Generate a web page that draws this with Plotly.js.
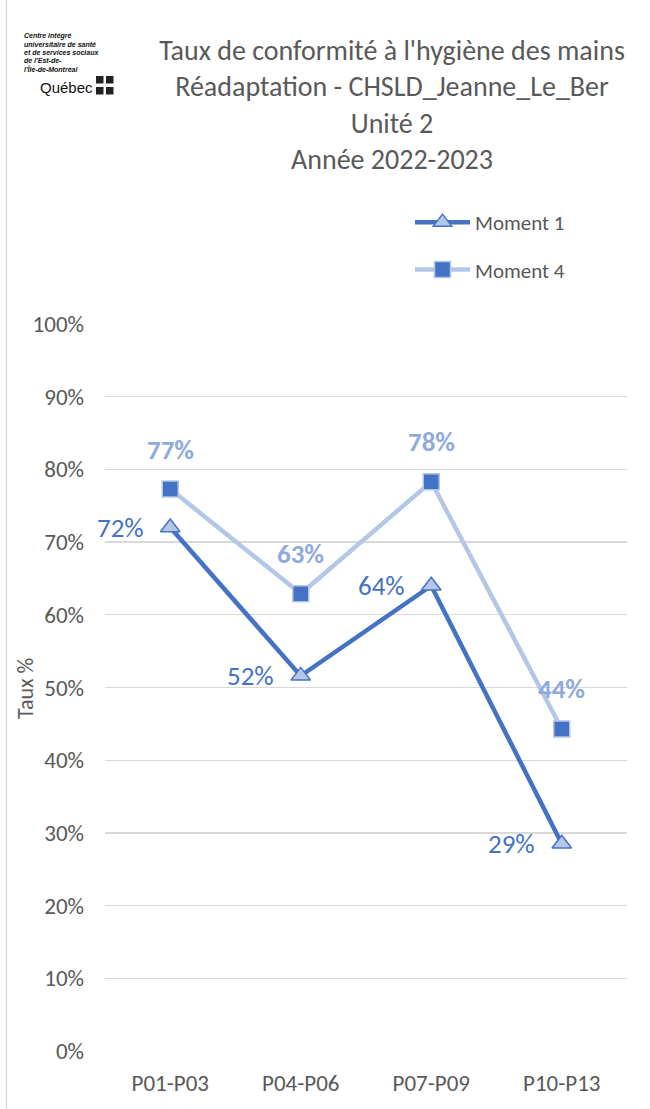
<!DOCTYPE html>
<html>
<head>
<meta charset="utf-8">
<script src="https://cdn.plot.ly/plotly-3.0.1.min.js"></script>
<style>html,body{margin:0;padding:0;background:#fff;}#chart{width:650px;height:1109px;}</style>
</head>
<body>
<div id="chart"></div>
<script>
const categories = ["P01-P03", "P04-P06", "P07-P09", "P10-P13"];
const moment1 = [0.72, 0.516, 0.64, 0.285];
const moment4 = [0.773, 0.629, 0.783, 0.443];
const moment1Labels = ["72%", "52%", "64%", "29%"];
const moment4Labels = ["77%", "63%", "78%", "44%"];
const yTickVals = [0, 0.1, 0.2, 0.3, 0.4, 0.5, 0.6, 0.7, 0.8, 0.9, 1.0];
const yTickText = ["0%", "10%", "20%", "30%", "40%", "50%", "60%", "70%", "80%", "90%", "100%"];

const FONT = "Carlito, Lato, 'Open Sans', sans-serif";
const DARK = "#4472C4";
const LIGHT = "#B4C7E7";
const LABEL4 = "#8FAADC";
const GREY = "#595959";

// plot-area geometry in pixels (for paper coordinates of decorations)
const L = 105, R = 627, T = 324, B = 1051;
const px = x => (x - L) / (R - L);
const py = y => (B - y) / (B - T);

const traces = [
  {
    x: categories, y: moment1, name: "Moment 1", type: "scatter", mode: "lines+markers",
    legendgroup: "g1",
    line: {color: DARK, width: 4.5},
    marker: {symbol: "triangle-up", size: 17, color: LIGHT, line: {color: DARK, width: 1.5}}
  },
  {
    x: categories, y: moment4, name: "Moment 4", type: "scatter", mode: "lines+markers",
    legendgroup: "g2",
    line: {color: LIGHT, width: 4.5},
    marker: {symbol: "square", size: 16, color: DARK, line: {color: LIGHT, width: 1.5}}
  }
];

const annotations = [];
categories.forEach((c, i) => {
  annotations.push({x: c, y: moment1[i], xref: "x", yref: "y", text: moment1Labels[i], showarrow: false,
    xshift: -50, yshift: 0, font: {family: FONT, size: 27, color: DARK}});
  annotations.push({x: c, y: moment4[i], xref: "x", yref: "y", text: "<b>" + moment4Labels[i] + "</b>", showarrow: false,
    xshift: 0, yshift: 40, font: {family: FONT, size: 27, color: LABEL4}});
});

// y-axis title
annotations.push({xref: "paper", yref: "paper", x: px(25), y: py(688), text: "Taux %", textangle: -90,
  showarrow: false, xanchor: "center", yanchor: "middle", font: {family: FONT, size: 22, color: GREY}});

// logo text
const logoLines = ["Centre intégré", "universitaire de santé", "et de services sociaux", "de l'Est-de-", "l'Île-de-Montréal"];
logoLines.forEach((t, i) => {
  annotations.push({xref: "paper", yref: "paper", x: px(22), y: py(36 + i * 8.2),
    text: "<b><i>" + t + "</i></b>", showarrow: false, xanchor: "left", yanchor: "middle",
    font: {family: "'Liberation Sans', Arial, sans-serif", size: 7, color: "#111"}});
});
annotations.push({xref: "paper", yref: "paper", x: px(38), y: py(88), text: "Québec",
  showarrow: false, xanchor: "left", yanchor: "middle",
  font: {family: "'Liberation Sans', Arial, sans-serif", size: 15, color: "#111"}});

const shapes = [
  {type: "line", xref: "paper", yref: "paper", x0: px(6.5), x1: px(6.5), y0: py(0), y1: py(1109),
   line: {color: "#D9D9D9", width: 1.5}}
];
[[96, 76], [106, 76], [96, 87], [106, 87]].forEach(p => {
  shapes.push({type: "rect", xref: "paper", yref: "paper",
    x0: px(p[0]), x1: px(p[0] + 7.5), y0: py(p[1]), y1: py(p[1] + 7.5),
    fillcolor: "#222", line: {width: 0}});
});

const layout = {
  width: 650, height: 1109,
  paper_bgcolor: "#fff", plot_bgcolor: "#fff",
  margin: {l: L, r: 650 - R, t: T, b: 1109 - B},
  font: {family: FONT, color: GREY},
  title: {
    text: "Taux de conformité à l'hygiène des mains<br>Réadaptation - CHSLD_Jeanne_Le_Ber<br>Unité 2<br>Année 2022-2023",
    font: {family: FONT, size: 28, color: GREY},
    xref: "container", yref: "container", x: 392 / 650, xanchor: "center", y: 1 - 60 / 1109, yanchor: "top"
  },
  showlegend: true,
  legend: {
    x: px(410), y: py(202), xanchor: "left", yanchor: "top",
    font: {family: FONT, size: 21, color: GREY},
    tracegroupgap: 17, itemwidth: 55, bgcolor: "rgba(0,0,0,0)"
  },
  xaxis: {
    type: "category", range: [-0.5, 3.5], showgrid: false, zeroline: false, showline: false,
    ticks: "", tickfont: {family: FONT, size: 23, color: GREY}, ticklabelstandoff: 16, fixedrange: true
  },
  yaxis: {
    range: [0, 1.0], tickvals: yTickVals, ticktext: yTickText, showgrid: true, gridcolor: "#D9D9D9", gridwidth: 1.3,
    zeroline: false, showline: false, ticks: "", tickfont: {family: FONT, size: 23, color: GREY},
    ticklabelstandoff: 20, fixedrange: true
  },
  annotations: annotations,
  shapes: shapes
};

Plotly.newPlot("chart", traces, layout, {displayModeBar: false, staticPlot: true});
</script>
</body>
</html>
